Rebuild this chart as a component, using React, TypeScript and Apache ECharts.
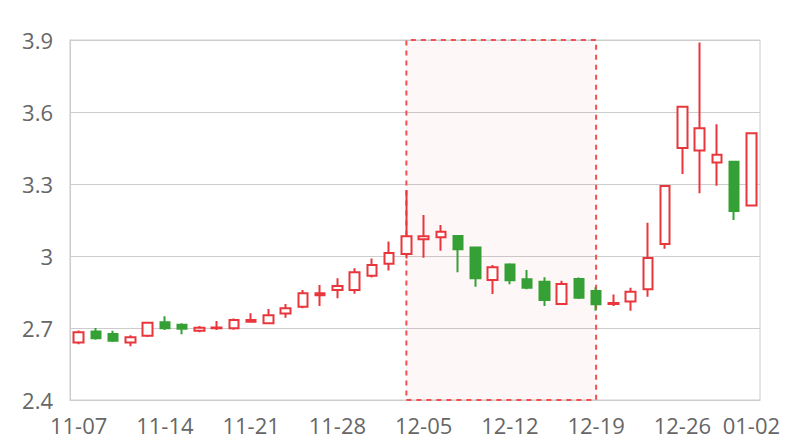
import React, { useEffect, useRef } from "react";
import * as echarts from "echarts";

const dates = [
  "11-07", "11-08", "11-09", "11-10", "11-11",
  "11-14", "11-15", "11-16", "11-17", "11-18",
  "11-21", "11-22", "11-23", "11-24", "11-25",
  "11-28", "11-29", "11-30", "12-01", "12-02",
  "12-05", "12-06", "12-07", "12-08", "12-09",
  "12-12", "12-13", "12-14", "12-15", "12-16",
  "12-19", "12-20", "12-21", "12-22", "12-23",
  "12-26", "12-27", "12-28", "12-29", "01-02",
];

const openValues = [
  2.640, 2.685, 2.675, 2.640, 2.668, 2.724, 2.714, 2.689, 2.699, 2.699,
  2.726, 2.720, 2.760, 2.789, 2.836, 2.858, 2.858, 2.918, 2.968, 3.008,
  3.070, 3.078, 3.083, 3.035, 2.900, 2.965, 2.903, 2.893, 2.800, 2.904,
  2.854, 2.800, 2.810, 2.861, 3.050, 3.450, 3.440, 3.390, 3.393, 3.210,
];
const closeValues = [
  2.682, 2.657, 2.647, 2.661, 2.722, 2.699, 2.697, 2.701, 2.702, 2.733,
  2.733, 2.753, 2.782, 2.845, 2.845, 2.875, 2.932, 2.962, 3.012, 3.082,
  3.082, 3.101, 3.028, 2.907, 2.953, 2.899, 2.868, 2.817, 2.883, 2.826,
  2.799, 2.804, 2.851, 2.992, 3.292, 3.622, 3.532, 3.422, 3.187, 3.511,
];
const lowValues = [
  2.632, 2.651, 2.642, 2.624, 2.662, 2.692, 2.674, 2.682, 2.692, 2.693,
  2.724, 2.717, 2.743, 2.782, 2.792, 2.824, 2.843, 2.910, 2.940, 2.990,
  2.993, 3.022, 2.932, 2.872, 2.842, 2.882, 2.861, 2.792, 2.800, 2.821,
  2.772, 2.792, 2.772, 2.830, 3.030, 3.342, 3.261, 3.293, 3.150, 3.210,
];
const highValues = [
  2.690, 2.700, 2.689, 2.670, 2.723, 2.749, 2.720, 2.708, 2.729, 2.740,
  2.761, 2.779, 2.800, 2.858, 2.879, 2.907, 2.949, 2.990, 3.060, 3.275,
  3.171, 3.129, 3.083, 3.037, 2.962, 2.970, 2.942, 2.911, 2.897, 2.910,
  2.870, 2.840, 2.868, 3.139, 3.292, 3.622, 3.890, 3.549, 3.393, 3.511,
];

const highlightStart = "12-02";
const highlightEnd = "12-19";

const UP = "#e8363c";
const DOWN = "#35a035";

export default function App() {
  const ref = useRef<HTMLDivElement>(null);

  useEffect(() => {
    document.body.style.margin = "0";
    if (!ref.current) return;
    const chart = echarts.init(ref.current, undefined, { renderer: "svg" });
    const data = dates.map((_, i) => [openValues[i], closeValues[i], lowValues[i], highValues[i]]);
    const font = "Open Sans";
    chart.setOption({
      animation: false,
      grid: {
        left: 70,
        right: 40,
        top: 40,
        bottom: 40,
        show: true,
        borderColor: "#cccccc",
        borderWidth: 1,
      },
      xAxis: {
        type: "category",
        data: dates,
        boundaryGap: true,
        axisLine: { lineStyle: { color: "#cccccc" } },
        axisTick: { show: false },
        axisLabel: {
          interval: 4,
          showMaxLabel: true,
          color: "#666666",
          fontSize: 22,
          fontFamily: font,
          margin: 14,
        },
        splitLine: { show: false },
      },
      yAxis: {
        type: "value",
        min: 2.4,
        max: 3.9,
        interval: 0.3,
        axisLine: { show: true, lineStyle: { color: "#cccccc" } },
        axisTick: { show: false },
        axisLabel: {
          color: "#666666",
          fontSize: 22,
          fontFamily: font,
          margin: 17,
        },
        splitLine: { lineStyle: { color: "#cccccc" } },
      },
      series: [
        {
          type: "candlestick",
          data,
          barWidth: 10,
          itemStyle: {
            color: "#ffffff",
            borderColor: UP,
            color0: DOWN,
            borderColor0: DOWN,
            borderWidth: 2,
          },
          markArea: {
            silent: true,
            itemStyle: {
              color: "rgba(240, 60, 60, 0.04)",
              borderColor: "#f05050",
              borderWidth: 2,
              borderType: [5, 5],
            },
            data: [[{ xAxis: highlightStart }, { xAxis: highlightEnd }]],
          },
        },
      ],
    });
    return () => chart.dispose();
  }, []);

  return <div ref={ref} style={{ width: 800, height: 440 }} />;
}
